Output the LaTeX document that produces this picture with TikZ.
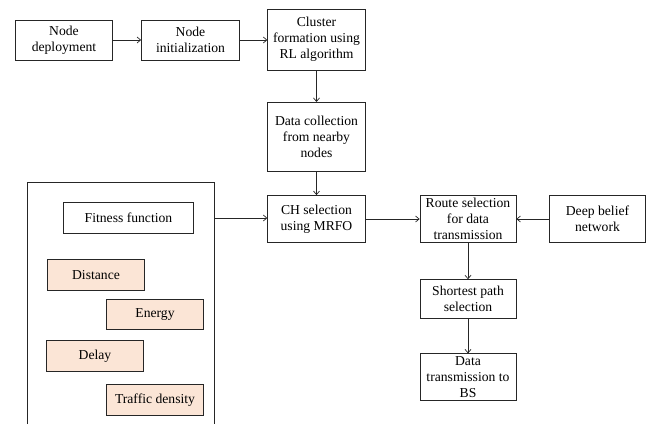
\documentclass[tikz,border=0pt]{standalone}
\usepackage{fontspec}
\setmainfont{Liberation Serif}
\usetikzlibrary{arrows.meta}
\definecolor{peach}{HTML}{FBE5D6}
\begin{document}
\begin{tikzpicture}[x=1bp,y=-1bp,
  box/.style={draw=black!85,line width=0.7bp,align=center,inner sep=0pt,
    font=\fontsize{13.7}{16}\selectfont},
  factor/.style={box,fill=peach},
  arr/.style={draw=black!85,line width=0.7bp,-{Straight Barb[length=3.5bp,width=6bp]}}]
\useasboundingbox (0,0) rectangle (655,424);
\newcommand{\bx}[6]{\node[#1,minimum width=#4-#3 bp,minimum height=#6-#5 bp] (#2) at ({(#3+#4)/2},{(#5+#6)/2})}
\bx{box}{dep}{15}{113}{20}{60} {Node\\deployment};
\bx{box}{ini}{141}{240}{20}{60} {Node\\initialization};
\bx{box}{clu}{267}{366}{9}{70} {Cluster\\formation using\\RL algorithm};
\bx{box}{dat}{267}{366}{102}{172} {Data collection\\from nearby\\nodes};
\bx{box}{ch}{267}{366}{195}{243} {CH selection\\using MRFO};
\bx{box}{rou}{419}{517}{195}{243} {Route selection\\for data\\transmission};
\bx{box}{dbn}{548}{647}{195}{243} {Deep belief\\network};
\bx{box}{sho}{419}{517}{279}{319} {Shortest path\\selection};
\bx{box}{dtx}{419}{517}{353}{401} {Data\\transmission to\\BS};
\bx{box}{fit}{63}{194}{202}{234} {Fitness function};
\bx{factor}{dis}{47}{145}{259}{291} {Distance};
\bx{factor}{ene}{106}{204}{299}{330} {Energy};
\bx{factor}{del}{46}{144}{340}{372} {Delay};
\bx{factor}{tra}{106}{204}{384}{416} {Traffic density};
\draw[draw=black!85,line width=0.7bp] (27,424) -- (27,182) -- (214,182) -- (214,424);
\coordinate (grp) at (214,218);
\draw[arr] (dep) -- (ini);
\draw[arr] (ini) -- (ini -| clu.west);
\draw[arr] (clu) -- (dat);
\draw[arr] (dat) -- (ch);
\draw[arr] (grp) -- (grp -| ch.west);
\draw[arr] (ch) -- (rou);
\draw[arr] (dbn) -- (rou);
\draw[arr] (rou) -- (sho);
\draw[arr] (sho) -- (dtx);
\end{tikzpicture}
\end{document}
